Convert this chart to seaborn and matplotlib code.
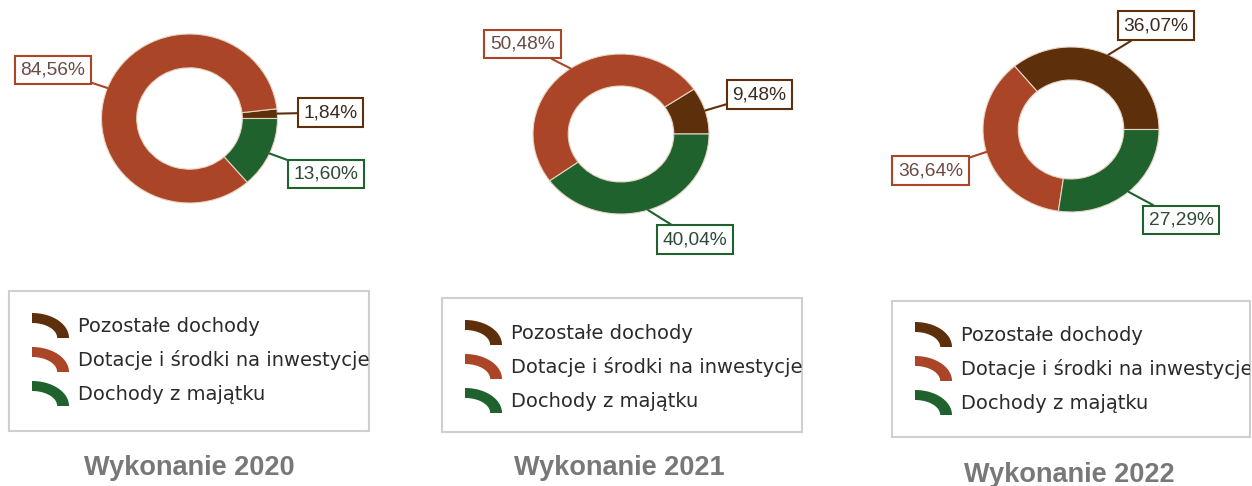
import numpy as np
import matplotlib
matplotlib.use('Agg')
import matplotlib.pyplot as plt
import seaborn as sns
from matplotlib.patches import Polygon, Rectangle, Patch
from matplotlib.legend_handler import HandlerBase
from matplotlib.transforms import Bbox, TransformedBbox

# dane
categories = ['Pozostałe dochody', 'Dotacje i środki na inwestycje', 'Dochody z majątku']
years = ['2020', '2021', '2022']
share_2020 = [1.84, 84.56, 13.60]
share_2021 = [9.48, 50.48, 40.04]
share_2022 = [36.07, 36.64, 27.29]
shares = [share_2020, share_2021, share_2022]

colors = ['#5e2f0b', '#ab4527', '#1f622e']
text_colors = ['#3a2a20', '#6b4a45', '#2d4a35']

W, H = 1252, 486

# uklad w pikselach: srodek i promienie donuta, srodki etykiet, ramka legendy, tytul
layout = [
    dict(cx=189.5, cy=118.5, rx=88, ry=84.5,
         labels=[(330.5, 112.5), (53, 70), (326, 174)],
         box=(9, 291, 369, 431), handle=(32, 313), title=(189.5, 475)),
    dict(cx=621, cy=134, rx=88, ry=80,
         labels=[(759.5, 94.5), (522.5, 44), (695, 239.5)],
         box=(442, 298, 802, 432), handle=(465, 320), title=(619, 475)),
    dict(cx=1071, cy=129.5, rx=88, ry=82.5,
         labels=[(1156, 25.5), (930.5, 170.5), (1181, 220)],
         box=(892, 301, 1250, 437), handle=(915, 322), title=(1069.5, 482)),
]


class ArcHandler(HandlerBase):
    # kawalek pierscienia jako znacznik w legendzie
    def create_artists(self, legend, orig_handle, xdescent, ydescent,
                       width, height, fontsize, trans):
        t = np.linspace(0, np.pi / 2, 40)
        x0, y0 = -xdescent, -ydescent
        outer = np.column_stack([x0 + width * np.cos(t), y0 + height * np.sin(t)])
        inner = np.column_stack([x0 + 0.68 * width * np.cos(t[::-1]),
                                 y0 + 0.6 * height * np.sin(t[::-1])])
        p = Polygon(np.vstack([outer, inner]), closed=True,
                    fc=orig_handle.get_facecolor(), ec='none')
        p.set_transform(trans)
        return [p]


sns.set_theme(style='white')
plt.rcParams['font.family'] = ['DejaVu Sans']
palette = sns.color_palette(colors)

fig = plt.figure(figsize=(W / 100, H / 100), dpi=100)
fig.patch.set_facecolor('white')

leg_fs = 14
fs_px = leg_fs * 100 / 72
# wysokosc znacznika 25 px (legend odejmuje descent od handleheight)
hh = (25 / fs_px - 0.245) / 0.65

for year, vals, lay in zip(years, shares, layout):
    cx, cy, rx, ry = lay['cx'], lay['cy'], lay['rx'], lay['ry']
    ax = fig.add_axes([(cx - rx) / W, (H - cy - ry) / H, 2 * rx / W, 2 * ry / H])
    wedges, _ = ax.pie(vals, colors=palette, startangle=0, counterclock=True,
                       radius=1,
                       wedgeprops=dict(width=0.4, edgecolor='#e6d3c0',
                                       linewidth=0.8, clip_on=False))
    ax.set_xlim(-1, 1)
    ax.set_ylim(-1, 1)
    ax.set_aspect('auto')
    ax.axis('off')

    for i, (w, v) in enumerate(zip(wedges, vals)):
        mid = np.deg2rad((w.theta1 + w.theta2) / 2)
        bx, by = lay['labels'][i]
        txt = f'{v:.2f}'.replace('.', ',') + '%'
        ax.annotate(txt, xy=(np.cos(mid), np.sin(mid)),
                    xytext=((bx - cx) / rx, (cy - by) / ry), textcoords='data',
                    ha='center', va='center', fontsize=13.8,
                    family='Liberation Sans', color=text_colors[i],
                    bbox=dict(boxstyle='square,pad=0.3', fc='white',
                              ec=colors[i], lw=1.5),
                    arrowprops=dict(arrowstyle='-', color=colors[i], lw=1.5,
                                    shrinkA=0, shrinkB=0),
                    annotation_clip=False)

    # ramka legendy
    x0, y0, x1, y1 = lay['box']
    frame_bb = Bbox.from_extents(x0 / W, 1 - y1 / H, x1 / W, 1 - y0 / H)
    fig.add_artist(Rectangle((x0 / W, 1 - y1 / H), (x1 - x0) / W, (y1 - y0) / H,
                             transform=fig.transFigure, fill=False,
                             ec='#cfcfcf', lw=1.5))

    handles = [Patch(facecolor=c) for c in palette]
    hx, hy = lay['handle']
    leg = fig.legend(handles, categories, loc='upper left',
                     bbox_to_anchor=(hx / W, 1 - hy / H),
                     handler_map={Patch: ArcHandler()},
                     frameon=False, borderpad=0, borderaxespad=0,
                     fontsize=leg_fs, labelcolor='#2b2b2b',
                     handlelength=37 / fs_px, handleheight=hh,
                     handletextpad=9 / fs_px, labelspacing=9 / fs_px)
    # tekst przyciety do ramki, jak w oryginale
    for t in leg.get_texts():
        t.set_clip_box(TransformedBbox(frame_bb, fig.transFigure))
        t.set_clip_on(True)

    tx, ty = lay['title']
    fig.text(tx / W, 1 - ty / H, f'Wykonanie {year}', ha='center', va='baseline',
             fontsize=19.5, fontweight='bold', color='#787878',
             family='Liberation Sans')

fig.savefig('out.png', dpi=100, facecolor='white')
